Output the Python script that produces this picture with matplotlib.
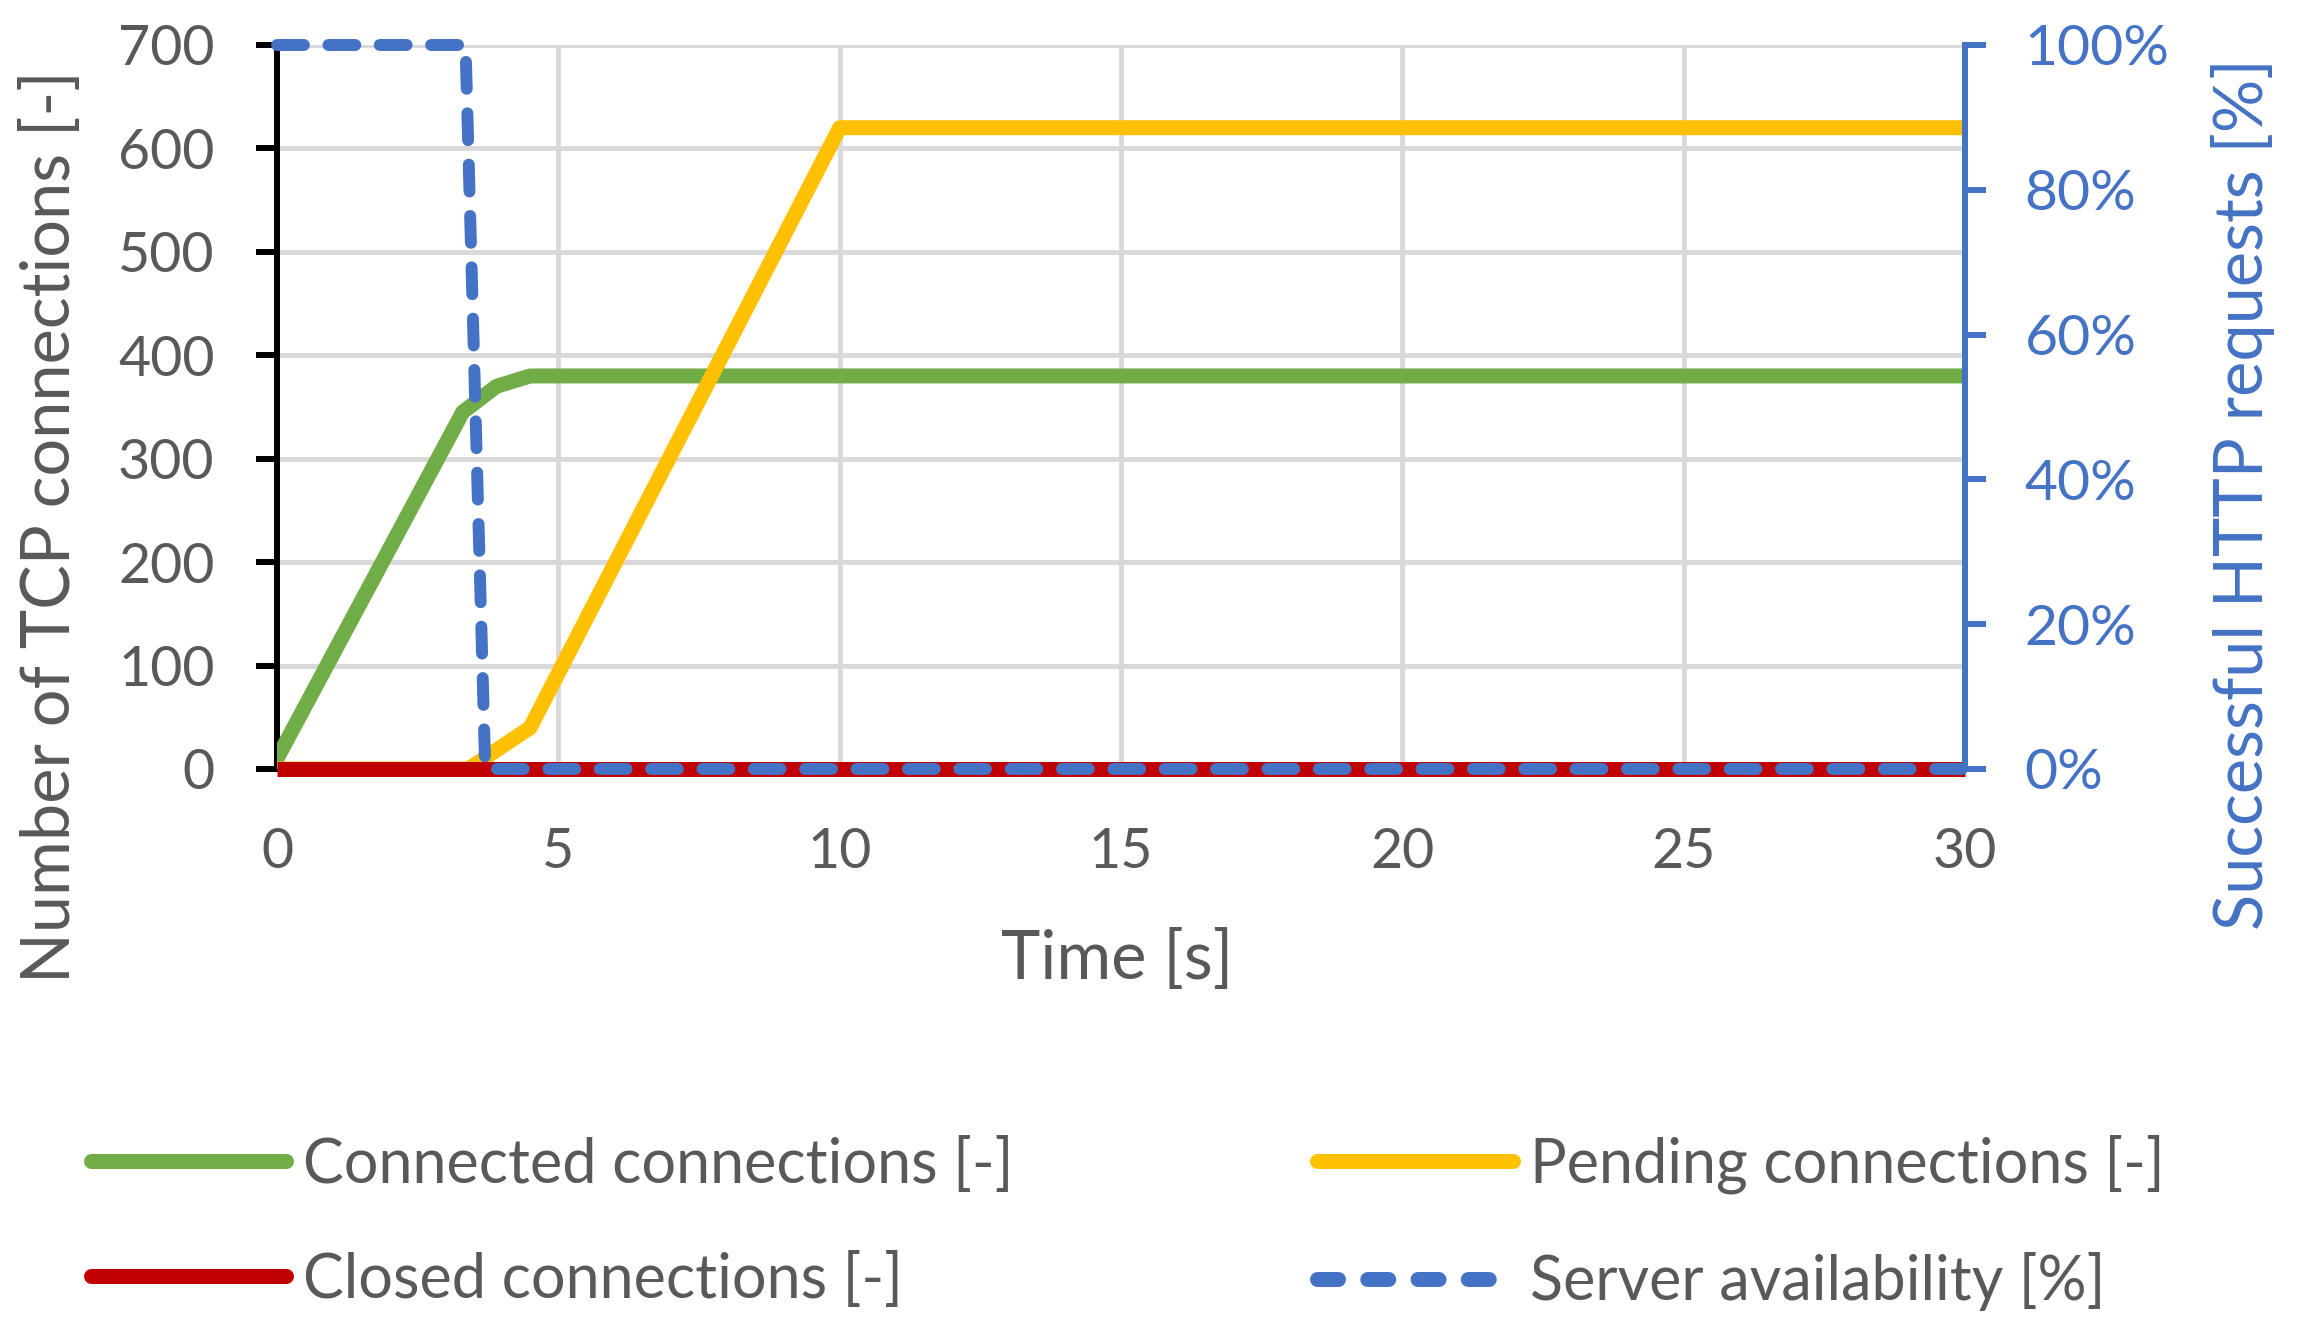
import numpy as np
import matplotlib
matplotlib.use("Agg")
import matplotlib.pyplot as plt
from matplotlib.ticker import PercentFormatter, MultipleLocator
from matplotlib.lines import Line2D

plt.rcParams['font.family'] = ['Lato', 'DejaVu Sans']

# data
t_connected = [0, 3.3, 3.9, 4.5, 30]
connected = [10, 345, 370, 380, 380]

t_pending = [0, 3.4, 4.5, 10, 30]
pending = [0, 0, 40, 620, 620]

t_closed = [0, 30]
closed = [0, 0]

t_avail = [0, 3.35, 3.7, 30]
availability = [1.0, 1.0, 0.0, 0.0]

labels = ["Connected connections [-]", "Pending connections [-]",
          "Closed connections [-]", "Server availability [%]"]

GREEN = "#70AD47"
YELLOW = "#FFC000"
RED = "#C00000"
BLUE = "#4472C4"
GREY = "#595959"
GRID = "#D9D9D9"

fig = plt.figure(figsize=(22.99, 13.35), dpi=100)
ax = fig.add_axes([0.1205, 0.4240, 0.8547 - 0.1205, 0.9663 - 0.4240])
ax2 = ax.twinx()

lw = 10.8
ax.plot(t_connected, connected, color=GREEN, lw=lw, solid_joinstyle='round', zorder=3)
ax.plot(t_pending, pending, color=YELLOW, lw=lw, solid_joinstyle='round', zorder=3)
ax.plot(t_closed, closed, color=RED, lw=lw, solid_capstyle='butt', zorder=4, clip_on=False)
ax2.plot(t_avail, availability, color=BLUE, lw=8.6, dashes=(2.25, 2.05),
         dash_capstyle='round', dash_joinstyle='round', zorder=5, clip_on=False)

ax.set_xlim(0, 30)
ax.set_ylim(0, 700)
ax2.set_ylim(0, 1)
ax.xaxis.set_major_locator(MultipleLocator(5))
ax.yaxis.set_major_locator(MultipleLocator(100))
ax2.yaxis.set_major_locator(MultipleLocator(0.2))
ax2.yaxis.set_major_formatter(PercentFormatter(1.0, decimals=0))

ax.grid(True, color=GRID, lw=3.5, zorder=0)
ax.set_axisbelow(True)

for s in ['top', 'right', 'bottom']:
    ax.spines[s].set_visible(False)
for s in ['top', 'left', 'bottom']:
    ax2.spines[s].set_visible(False)
ax.spines['left'].set_color('black')
ax.spines['left'].set_linewidth(4.3)
ax2.spines['right'].set_color(BLUE)
ax2.spines['right'].set_linewidth(4.3)

ax.tick_params(axis='y', length=15, width=4.3, color='black', pad=30,
               labelsize=40, labelcolor=GREY)
ax.tick_params(axis='x', length=0, pad=42, labelsize=40, labelcolor=GREY)
ax2.tick_params(axis='y', length=15, width=4.3, color=BLUE, pad=28,
                labelsize=41, labelcolor=BLUE)

ax.set_xlabel("Time [s]", fontsize=48, color=GREY)
ax.xaxis.set_label_coords(0.498, -0.264)
ax.xaxis.label.set_va('center')

ax.set_ylabel("Number of TCP connections [-]", fontsize=48, color=GREY)
ax.yaxis.set_label_coords(-0.134, 0.335)
ax.yaxis.label.set_va('center')

ax2.set_ylabel("Successful HTTP requests [%]", fontsize=48, color=BLUE)
ax2.yaxis.set_label_coords(1.165, 0.38)
ax2.yaxis.label.set_va('center')
ax2.yaxis.label.set_ha('center')

h_conn = Line2D([], [], color=GREEN, lw=lw, solid_capstyle='round')
h_pend = Line2D([], [], color=YELLOW, lw=lw, solid_capstyle='round')
h_clos = Line2D([], [], color=RED, lw=lw, solid_capstyle='round')
h_avail = Line2D([], [], color=BLUE, lw=lw, dashes=(1.4, 1.95), dash_capstyle='round')

leg_kw = dict(loc='center left', frameon=False, fontsize=44, handlelength=3.2,
              handletextpad=0.28, labelspacing=0.95, borderpad=0, borderaxespad=0,
              labelcolor=GREY)
fig.legend([h_conn, h_clos], [labels[0], labels[2]],
           bbox_to_anchor=(0.0395, 0.0840), **leg_kw)
fig.legend([h_pend, h_avail], [labels[1], labels[3]],
           bbox_to_anchor=(0.573, 0.0840), **leg_kw)

fig.savefig("out.png", dpi=100)
